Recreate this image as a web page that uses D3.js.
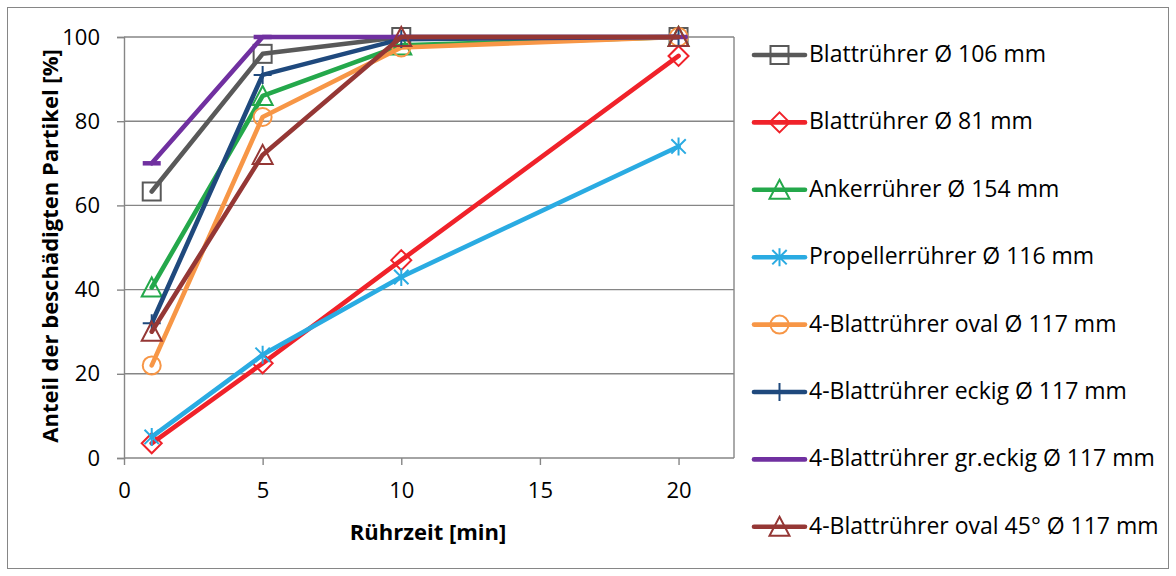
<!DOCTYPE html>
<html><head><meta charset="utf-8">
<script src="https://cdn.jsdelivr.net/npm/d3@7"></script>
<style>
html,body{margin:0;padding:0;background:#fff;}
svg{display:block;font-family:"Open Sans",sans-serif;}
</style></head>
<body><svg id="chart" width="1176" height="576"></svg>
<script>
// Stirring time in minutes
const times = [1, 5, 10, 20];

const seriesNames = [
  "Blattrührer Ø 106 mm",
  "Blattrührer Ø 81 mm",
  "Ankerrührer Ø 154 mm",
  "Propellerrührer Ø 116 mm",
  "4-Blattrührer oval Ø 117 mm",
  "4-Blattrührer eckig Ø 117 mm",
  "4-Blattrührer gr.eckig Ø 117 mm",
  "4-Blattrührer oval 45° Ø 117 mm"
];

// Share of damaged particles [%] per series
const blatt106   = [63.3, 96, 100, 100];
const blatt81    = [3.5, 22.5, 47, 95.5];
const anker154   = [40.5, 86, 98, 100];
const propeller  = [5, 24.5, 43, 74];
const ovalVals   = [22, 81, 97.5, 100];
const eckigVals  = [32, 91, 99.5, 100];
const grEckig    = [70, 100, 100, 100];
const oval45     = [30, 72, 100, 100];

const seriesValues = [blatt106, blatt81, anker154, propeller, ovalVals, eckigVals, grEckig, oval45];
const colors = ["#595959", "#F0222A", "#24A84B", "#2AABE2", "#F79646", "#1F497D", "#7030A0", "#953735"];
const markers = ["square", "diamond", "triangle", "asterisk", "circle", "plus", "dash", "triangle"];

const xTicks = [0, 5, 10, 15, 20];
const yTicks = [0, 20, 40, 60, 80, 100];

const svg = d3.select("#chart");

// outer chart frame
svg.append("rect").attr("x", 7.5).attr("y", 7.5).attr("width", 1161).attr("height", 561)
  .attr("fill", "#fff").attr("stroke", "#868686").attr("stroke-width", 1);

const x = d3.scaleLinear().domain([0, 22]).range([124, 734]);
const y = d3.scaleLinear().domain([0, 100]).range([458, 37]);

// horizontal gridlines
svg.append("g").selectAll("line").data(yTicks.filter(d => d > 0)).join("line")
  .attr("x1", x(0)).attr("x2", x(22)).attr("y1", d => y(d)).attr("y2", d => y(d))
  .attr("stroke", "#868686").attr("stroke-width", 1.4);
// right border of plot area
svg.append("line").attr("x1", x(22)).attr("x2", x(22)).attr("y1", y(100)).attr("y2", y(0))
  .attr("stroke", "#868686").attr("stroke-width", 1.4);

// axes
const xAxis = d3.axisBottom(x).tickValues(xTicks).tickSize(7).tickPadding(17).tickFormat(d3.format("d"));
const yAxis = d3.axisLeft(y).tickValues(yTicks).tickSize(7).tickPadding(17).tickFormat(d3.format("d"));

const gx = svg.append("g").attr("transform", `translate(0,${y(0)})`).call(xAxis);
const gy = svg.append("g").attr("transform", `translate(${x(0)},0)`).call(yAxis);
[gx, gy].forEach(g => {
  g.select(".domain").attr("stroke", "#868686").attr("stroke-width", 1.4);
  g.selectAll(".tick line").attr("stroke", "#868686").attr("stroke-width", 1.4);
  g.selectAll(".tick text").attr("fill", "#000").style("font-size", "22px").style("font-family", "'Open Sans', sans-serif");
});
gx.select(".domain").attr("d", `M${x(0)},0H${x(22)}`);

// axis titles
svg.append("text").attr("x", 428).attr("y", 540).attr("text-anchor", "middle")
  .style("font-size", "22px").style("font-weight", "bold").text("Rührzeit [min]");
svg.append("text").attr("transform", "translate(58,246) rotate(-90)").attr("text-anchor", "middle")
  .style("font-size", "22px").style("font-weight", "bold").text("Anteil der beschädigten Partikel [%]");

// marker drawing
function drawMarker(g, type, color, cx, cy) {
  const s = 9;
  const st = { stroke: color, "stroke-width": 2, fill: "none" };
  let el;
  if (type === "square") {
    el = g.append("rect").attr("x", cx - s).attr("y", cy - s).attr("width", 2 * s).attr("height", 2 * s);
  } else if (type === "diamond") {
    el = g.append("path").attr("d", `M${cx},${cy - s - 1}L${cx + s + 1},${cy}L${cx},${cy + s + 1}L${cx - s - 1},${cy}Z`);
  } else if (type === "triangle") {
    el = g.append("path").attr("d", `M${cx},${cy - s - 1}L${cx + s + 1},${cy + s}L${cx - s - 1},${cy + s}Z`);
  } else if (type === "circle") {
    el = g.append("circle").attr("cx", cx).attr("cy", cy).attr("r", s);
  } else if (type === "asterisk") {
    const a = s * 0.8;
    el = g.append("path").attr("d",
      `M${cx},${cy - s}V${cy + s}M${cx - a},${cy - a}L${cx + a},${cy + a}M${cx - a},${cy + a}L${cx + a},${cy - a}`);
  } else if (type === "plus") {
    el = g.append("path").attr("d", `M${cx},${cy - s}V${cy + s}M${cx - s},${cy}H${cx + s}`);
  } else if (type === "dash") {
    el = g.append("path").attr("d", `M${cx - s},${cy}H${cx + s}`);
    st["stroke-width"] = 4.5;
  }
  Object.entries(st).forEach(([k, v]) => el.attr(k, v));
}

const line = d3.line().x(d => x(d[0])).y(d => y(d[1]));
const plot = svg.append("g");
seriesValues.forEach((vals, i) => {
  const pts = times.map((t, j) => [t, vals[j]]);
  const g = plot.append("g");
  g.append("path").attr("d", line(pts)).attr("fill", "none")
    .attr("stroke", colors[i]).attr("stroke-width", 4.6).attr("stroke-linejoin", "round").attr("stroke-linecap", "round");
  pts.forEach(p => drawMarker(g, markers[i], colors[i], x(p[0]), y(p[1])));
});

// legend
const legend = svg.append("g");
seriesNames.forEach((name, i) => {
  const ly = 55 + i * 67.4;
  const g = legend.append("g");
  g.append("line").attr("x1", 754).attr("x2", 805).attr("y1", ly).attr("y2", ly)
    .attr("stroke", colors[i]).attr("stroke-width", 4.6).attr("stroke-linecap", "round");
  if (markers[i] !== "dash") drawMarker(g, markers[i], colors[i], 779.5, ly);
  g.append("text").attr("x", 809).attr("y", ly + 7)
    .style("font-size", "23px").attr("fill", "#000").text(name);
});
</script>
</body></html>
